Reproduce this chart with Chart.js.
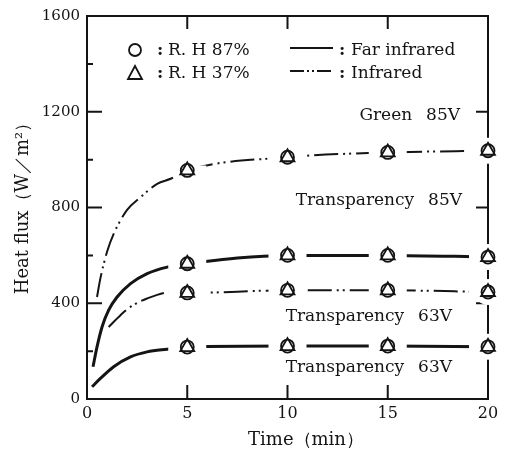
<!DOCTYPE html>
<html>
<head>
<meta charset="utf-8">
<title>Heat flux vs time</title>
<script src="https://cdn.jsdelivr.net/npm/chart.js@4.4.1/dist/chart.umd.min.js"></script>
<style>
  html, body { margin: 0; padding: 0; background: #fff; }
  #c { display: block; }
</style>
</head>
<body>
<canvas id="c" width="506" height="457"></canvas>
<script>
// ---- data (heat flux in W/m², time in min) ----
const markerTimes = [5, 10, 15, 20];

// steady readings at the sampling times
const greenIR    = [955, 1010, 1030, 1037];   // Green 85V, infrared
const trans85FIR = [565, 600, 600, 593];      // Transparency 85V, far infrared
const trans63IR  = [443, 454, 454, 447];      // Transparency 63V, infrared
const trans63FIR = [217, 221, 221, 218];      // Transparency 63V, far infrared

// warm-up curves
const greenIRRiseT    = [0.5, 0.67, 1.0, 1.33, 2.0, 2.67, 3.5, 4.17];
const greenIRRise     = [426, 505, 615, 690, 790, 843, 899, 920];
const trans85FIRRiseT = [0.3, 0.5, 0.75, 1.08, 1.5, 2.17, 3.0, 4.0];
const trans85FIRRise  = [135, 218, 301, 371, 426, 482, 524, 551];
const trans63IRRiseT  = [1.08, 1.67, 2.17, 3.0, 4.25];
const trans63IRRise   = [301, 350, 385, 420, 447];
const trans63FIRRiseT = [0.25, 0.67, 1.33, 2.17, 3.0, 4.0];
const trans63FIRRise  = [51, 86, 135, 176, 197, 208];

// axis ticks
const xTickValues = [0, 5, 10, 15, 20];
const xInnerTicks = [5, 10, 15];
const yTickValues = [0, 400, 800, 1200, 1600];
const yMajorInner = [400, 800, 1200];
const yMinorInner = [200, 600, 1000, 1400];
const yRightInner = [400, 800, 1200];

// text
const curveLabels  = ['Green\u2002 85V', 'Transparency\u2002 85V', 'Transparency\u2002 63V', 'Transparency\u2002 63V'];
const rhLabels     = ['R. H 87%', 'R. H 37%'];
const sourceLabels = ['Far infrared', 'Infrared'];
const xTitle = 'Time\uFF08min\uFF09';
const yTitle = 'Heat flux\uFF08W\uFF0Fm\u00B2\uFF09';

// ---- styling ----
const INK = '#141414';
const SERIF = '"DejaVu Serif", "Liberation Serif", serif';
const IR_DASH = [24, 5, 2, 4, 2, 5];

Chart.defaults.font.family = SERIF;
Chart.defaults.color = INK;

function pts(ts, vs) { return ts.map((t, i) => ({ x: t, y: vs[i] })); }

const runs = [
  { riseT: greenIRRiseT,    rise: greenIRRise,    steady: greenIR,    ir: true },
  { riseT: trans85FIRRiseT, rise: trans85FIRRise, steady: trans85FIR, ir: false },
  { riseT: trans63IRRiseT,  rise: trans63IRRise,  steady: trans63IR,  ir: true },
  { riseT: trans63FIRRiseT, rise: trans63FIRRise, steady: trans63FIR, ir: false },
];

// drawing order: curves at the back, then white gaps, then symbols
const datasets = [];
runs.forEach(r => {
  const steadyPts = pts(markerTimes, r.steady);
  datasets.push({
    data: pts(r.riseT, r.rise).concat(steadyPts),
    showLine: true,
    borderColor: INK,
    borderWidth: r.ir ? 2 : 3,
    borderDash: r.ir ? IR_DASH : [],
    pointRadius: 0,
    cubicInterpolationMode: 'monotone',
    fill: false,
    clip: false,
    order: 4
  });
  // white round gap around each symbol
  datasets.push({
    data: steadyPts, showLine: false,
    pointStyle: 'circle', pointRadius: 13, pointBorderWidth: 0,
    pointBackgroundColor: '#fff', pointBorderColor: '#fff',
    clip: false, order: 3
  });
  // wider horizontal gap where the curve meets the symbol
  datasets.push({
    data: steadyPts, showLine: false,
    pointStyle: 'line', pointRadius: 19, pointBorderWidth: 10,
    pointBackgroundColor: '#fff', pointBorderColor: '#fff',
    clip: false, order: 2
  });
  // R.H 87 %
  datasets.push({
    data: steadyPts, showLine: false,
    pointStyle: 'circle', pointRadius: 6.5, pointBorderWidth: 1.8,
    pointBackgroundColor: '#fff', pointBorderColor: INK,
    clip: false, order: 1
  });
  // R.H 37 %
  datasets.push({
    data: steadyPts, showLine: false,
    pointStyle: 'triangle', pointRadius: 8, pointBorderWidth: 1.8,
    pointBackgroundColor: 'rgba(0,0,0,0)', pointBorderColor: INK,
    clip: false, order: 0
  });
});

// short tick marks pointing into the plot on all four sides
const innerTicks = {
  id: 'innerTicks',
  beforeDatasetsDraw(chart) {
    const { ctx, chartArea: a, scales: { x, y } } = chart;
    ctx.save();
    ctx.strokeStyle = INK; ctx.lineWidth = 2;
    ctx.beginPath();
    xInnerTicks.forEach(v => {
      const px = x.getPixelForValue(v);
      ctx.moveTo(px, a.bottom); ctx.lineTo(px, a.bottom - 14);
      ctx.moveTo(px, a.top);    ctx.lineTo(px, a.top + 13);
    });
    yMajorInner.forEach(v => {
      const py = y.getPixelForValue(v);
      ctx.moveTo(a.left, py); ctx.lineTo(a.left + 15, py);
    });
    yMinorInner.forEach(v => {
      const py = y.getPixelForValue(v);
      ctx.moveTo(a.left, py); ctx.lineTo(a.left + 6, py);
    });
    yRightInner.forEach(v => {
      const py = y.getPixelForValue(v);
      ctx.moveTo(a.right, py); ctx.lineTo(a.right - 12, py);
    });
    ctx.stroke();
    ctx.restore();
  }
};

// curve names, key and axis titles
const captions = {
  id: 'captions',
  afterDraw(chart) {
    const { ctx } = chart;
    ctx.save();
    ctx.fillStyle = INK; ctx.strokeStyle = INK;
    ctx.textBaseline = 'middle';

    // curve names
    ctx.font = '17px ' + SERIF;
    ctx.textAlign = 'right';
    const namePos = [[460, 116], [462, 201], [452, 317], [452, 368]];
    curveLabels.forEach((t, i) => ctx.fillText(t, namePos[i][0], namePos[i][1]));

    // key: humidity symbols
    ctx.lineWidth = 1.8;
    ctx.beginPath(); ctx.arc(135, 50, 6, 0, Math.PI * 2); ctx.stroke();
    ctx.beginPath();
    ctx.moveTo(135, 66); ctx.lineTo(142, 79); ctx.lineTo(128, 79); ctx.closePath(); ctx.stroke();

    // key: line samples
    ctx.lineWidth = 2;
    ctx.beginPath(); ctx.moveTo(290, 48); ctx.lineTo(333, 48); ctx.stroke();
    ctx.setLineDash([14, 3, 2, 3, 2, 3]);
    ctx.beginPath(); ctx.moveTo(290, 71); ctx.lineTo(333, 71); ctx.stroke();
    ctx.setLineDash([]);

    ctx.textAlign = 'left';
    ctx.font = 'bold 17px ' + SERIF;
    [[157, 51], [157, 74], [339, 51], [339, 74]].forEach(p => ctx.fillText(':', p[0], p[1]));
    ctx.font = '17px ' + SERIF;
    ctx.fillText(rhLabels[0], 168, 51);
    ctx.fillText(rhLabels[1], 168, 74);
    ctx.fillText(sourceLabels[0], 351, 51);
    ctx.fillText(sourceLabels[1], 351, 74);

    // axis titles
    ctx.font = '18px ' + SERIF;
    ctx.textAlign = 'center';
    ctx.fillText(xTitle, 306, 440);
    ctx.translate(23, 204);
    ctx.rotate(-Math.PI / 2);
    ctx.fillText(yTitle, 0, 0);
    ctx.restore();
  }
};

const frame = { display: true, width: 2, color: INK };
const noGrid = { display: false, drawTicks: false };
const plainNumber = v => String(v);

new Chart(document.getElementById('c'), {
  type: 'scatter',
  data: { datasets },
  options: {
    responsive: false,
    animation: false,
    devicePixelRatio: 1,
    events: [],
    layout: { padding: 0, autoPadding: false },
    plugins: { legend: { display: false }, tooltip: { enabled: false } },
    scales: {
      x: {
        type: 'linear', position: 'bottom', min: 0, max: 20,
        afterBuildTicks: s => { s.ticks = xTickValues.map(v => ({ value: v })); },
        ticks: { color: INK, padding: 5, font: { size: 16 }, callback: plainNumber },
        grid: noGrid, border: frame,
        afterFit: s => { s.height = 58; }
      },
      x2: {
        type: 'linear', position: 'top', min: 0, max: 20,
        ticks: { display: false }, grid: noGrid, border: frame,
        afterFit: s => { s.height = 15; }
      },
      y: {
        type: 'linear', position: 'left', min: 0, max: 1600,
        afterBuildTicks: s => { s.ticks = yTickValues.map(v => ({ value: v })); },
        ticks: { color: INK, padding: 7, font: { size: 15 }, callback: plainNumber },
        grid: noGrid, border: frame,
        afterFit: s => { s.width = 87; }
      },
      y2: {
        type: 'linear', position: 'right', min: 0, max: 1600,
        ticks: { display: false }, grid: noGrid, border: frame,
        afterFit: s => { s.width = 18; }
      }
    }
  },
  plugins: [innerTicks, captions]
});
</script>
</body>
</html>
